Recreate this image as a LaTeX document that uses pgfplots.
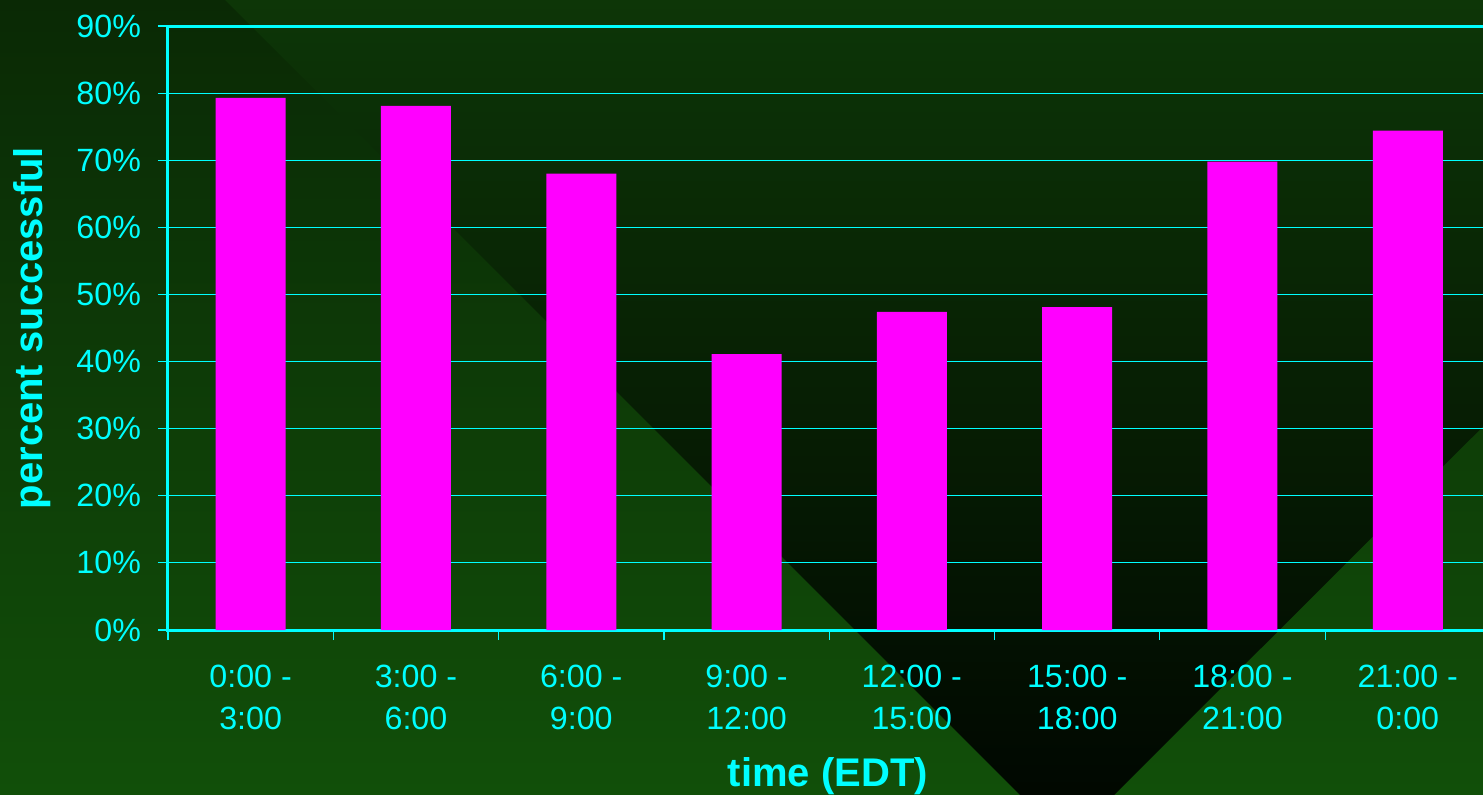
\documentclass[border=0pt]{standalone}
\usepackage{pgfplots}
\usepackage{pgfplotstable}
\pgfplotsset{compat=1.18}
\usepackage{fontspec}
\setmainfont{Liberation Sans}

\definecolor{labelcyan}{HTML}{00FFFF}
\definecolor{barmagenta}{HTML}{FF00FF}
\definecolor{bgtop}{HTML}{0A2905}
\definecolor{bgbottom}{HTML}{114F09}
\definecolor{wedgetop}{HTML}{0D3607}
\definecolor{wedgemid}{HTML}{072405}
\definecolor{wedgebottom}{HTML}{000500}

% share of successful attempts per three-hour slot
\pgfplotstableread{
slot pct
0 79.3
1 78.1
2 68.0
3 41.1
4 47.4
5 48.1
6 69.8
7 74.4
}\successtable

\begin{document}
\begin{tikzpicture}
\useasboundingbox (0,0) rectangle (741.5pt,397pt);
\begin{scope}
\clip (0,0) rectangle (741.5pt,397pt);
% slide background: green gradient with a dark wedge
\shade[top color=bgtop, bottom color=bgbottom] (0,0) rectangle (741.5pt,397pt);
\shade[top color=wedgetop, middle color=wedgemid, bottom color=wedgebottom]
  (112.5pt,397pt) -- (955pt,397pt) -- (533.5pt,-24pt) -- cycle;
\begin{axis}[
  at={(84pt,82pt)}, anchor=south west,
  scale only axis, width=661.2pt, height=302pt,
  xmin=-0.5, xmax=7.5, ymin=0, ymax=90,
  ybar, bar width=35pt,
  axis line style={labelcyan, line width=1.5pt},
  tick pos=left, tick align=outside,
  xtick={0,...,7},
  xticklabels={{0:00 -\\3:00},{3:00 -\\6:00},{6:00 -\\9:00},{9:00 -\\12:00},
               {12:00 -\\15:00},{15:00 -\\18:00},{18:00 -\\21:00},{21:00 -\\0:00}},
  major x tick style={draw=none},
  minor xtick={-0.5,0.5,...,7.5},
  minor tick length=5pt,
  minor x tick style={labelcyan, line width=0.6pt},
  ytick={0,10,...,90},
  yticklabels={0\%,10\%,20\%,30\%,40\%,50\%,60\%,70\%,80\%,90\%},
  major tick length=5pt,
  major y tick style={labelcyan, line width=0.6pt},
  ymajorgrids,
  major grid style={labelcyan, line width=0.5pt},
  xticklabel style={align=center, anchor=north, yshift=-8.8pt,
    font=\fontsize{16.1}{21}\selectfont, text=labelcyan},
  yticklabel style={anchor=east, xshift=-5pt,
    font=\fontsize{16.1}{19}\selectfont, text=labelcyan},
  xlabel={time (EDT)},
  ylabel={percent successful},
  every axis x label/.style={at={(axis description cs:0.499,-0.242)}, anchor=center,
    font=\fontsize{20}{24}\selectfont\bfseries, text=labelcyan},
  every axis y label/.style={at={(axis description cs:-0.103,0.5)}, anchor=center, rotate=90,
    font=\fontsize{20}{24}\selectfont\bfseries, text=labelcyan},
]
\addplot[fill=barmagenta, draw=none] table[x=slot, y=pct] {\successtable};
\end{axis}
\end{scope}
\end{tikzpicture}
\end{document}
